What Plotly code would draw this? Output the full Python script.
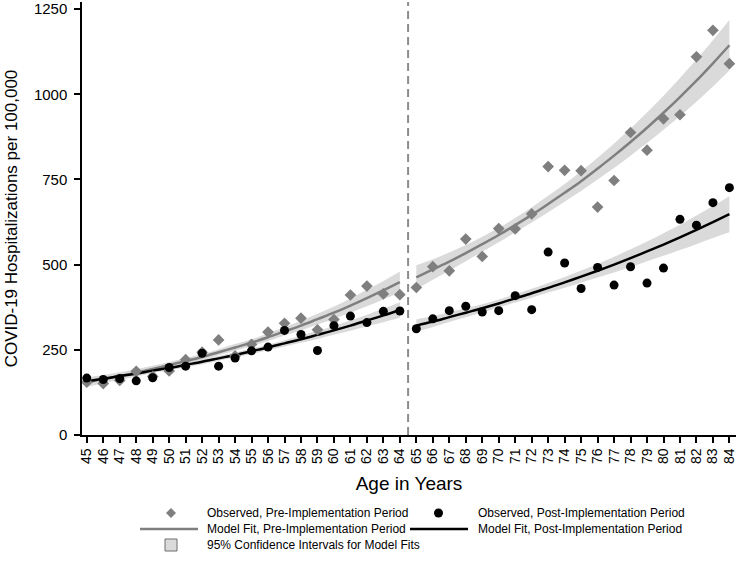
import plotly.graph_objects as go

# ages on each side of the 65 cutoff
ages_below = list(range(45, 65))
ages_above = list(range(65, 85))
ages = ages_below + ages_above
cutoff = 64.5

# observed rates
obs_pre = [155, 151, 160, 187, 172, 188, 221, 243, 279, 232,
           266, 302, 328, 343, 309, 339, 411, 437, 414, 412,
           433, 494, 482, 575, 524, 606, 605, 649, 788, 777,
           776, 669, 747, 888, 836, 928, 940, 1110, 1188, 1090]
obs_post = [167, 163, 166, 159, 168, 198, 202, 240, 202, 226,
            247, 258, 307, 295, 248, 321, 349, 330, 363, 364,
            312, 341, 365, 378, 361, 365, 409, 368, 537, 505,
            430, 492, 440, 494, 446, 490, 633, 616, 682, 726]

# model fits
fit_pre_below = [155, 164, 173, 183, 194, 205, 217, 229, 243, 257,
                 271, 287, 304, 321, 340, 359, 380, 402, 425, 449]
fit_pre_above = [463, 486, 509, 534, 560, 587, 616, 646, 678, 711,
                 745, 782, 820, 860, 902, 946, 992, 1040, 1091, 1144]
fit_post_below = [158, 165, 173, 180, 189, 197, 206, 215, 225, 235,
                  246, 257, 269, 281, 294, 307, 321, 336, 351, 367]
fit_post_above = [321, 333, 346, 359, 372, 386, 401, 416, 432, 448,
                  465, 482, 500, 519, 539, 559, 580, 602, 625, 648]

# 95% CI half widths
ci_pre_below = [14, 12, 11, 10, 9, 9, 9, 9, 9, 10,
                10, 11, 12, 14, 16, 18, 21, 24, 27, 31]
ci_pre_above = [35, 30, 27, 24, 22, 21, 21, 22, 24, 26,
                29, 32, 36, 40, 45, 50, 56, 62, 68, 74]
ci_post_below = [11, 10, 9, 8, 7, 7, 7, 7, 7, 7,
                 8, 8, 9, 10, 12, 13, 15, 17, 20, 23]
ci_post_above = [18, 16, 14, 13, 12, 12, 12, 13, 14, 16,
                 18, 20, 23, 26, 29, 33, 37, 42, 47, 53]

GRAY = "#7f7f7f"
BAND = "#dadada"
FONT = "Liberation Sans, Arial, sans-serif"

fig = go.Figure()

segments = [
    (ages_below, fit_pre_below, ci_pre_below),
    (ages_above, fit_pre_above, ci_pre_above),
    (ages_below, fit_post_below, ci_post_below),
    (ages_above, fit_post_above, ci_post_above),
]
for a, f, h in segments:
    fig.add_trace(go.Scatter(x=a, y=[v - w for v, w in zip(f, h)], mode="lines",
                             line=dict(width=0, shape="spline"), showlegend=False, hoverinfo="skip"))
    fig.add_trace(go.Scatter(x=a, y=[v + w for v, w in zip(f, h)], mode="lines",
                             line=dict(width=0, shape="spline"), fill="tonexty", fillcolor=BAND,
                             showlegend=False, hoverinfo="skip"))

for a, f, c in [(ages_below, fit_pre_below, GRAY), (ages_above, fit_pre_above, GRAY),
                (ages_below, fit_post_below, "black"), (ages_above, fit_post_above, "black")]:
    fig.add_trace(go.Scatter(x=a, y=f, mode="lines", line=dict(color=c, width=2.5, shape="spline"),
                             showlegend=False))

fig.add_trace(go.Scatter(x=ages, y=obs_pre, mode="markers",
                         marker=dict(symbol="diamond", size=9, color=GRAY), showlegend=False))
fig.add_trace(go.Scatter(x=ages, y=obs_post, mode="markers",
                         marker=dict(symbol="circle", size=9, color="black"), showlegend=False))

fig.add_vline(x=cutoff, line=dict(color="#8c8c8c", width=2, dash="8px,5px"))

# plot area in pixels: left 82, right 736, top 2, bottom 435
L, R, T, B = 82, 736, 2, 435
def px(x):
    return (x - L) / (R - L)
def py(y):
    return (B - y) / (B - T)

# hand-made legend
shapes = []
d = 5
cx, cy = 171, 513
shapes.append(dict(type="path", xref="paper", yref="paper",
                   path=f"M {px(cx)},{py(cy - d)} L {px(cx + d)},{py(cy)} L {px(cx)},{py(cy + d)} L {px(cx - d)},{py(cy)} Z",
                   fillcolor=GRAY, line=dict(width=0)))
shapes.append(dict(type="line", xref="paper", yref="paper", x0=px(140), x1=px(198), y0=py(529), y1=py(529),
                   line=dict(color=GRAY, width=2.5)))
shapes.append(dict(type="rect", xref="paper", yref="paper", x0=px(165), x1=px(177), y0=py(539), y1=py(551),
                   fillcolor=BAND, line=dict(color="#6e6e6e", width=1)))
shapes.append(dict(type="circle", xref="paper", yref="paper", x0=px(434), x1=px(443), y0=py(508.5), y1=py(517.5),
                   fillcolor="black", line=dict(width=0)))
shapes.append(dict(type="line", xref="paper", yref="paper", x0=px(410), x1=px(468), y0=py(529), y1=py(529),
                   line=dict(color="black", width=2.5)))
fig.update_layout(shapes=list(fig.layout.shapes) + shapes)

legend_texts = [
    (205, 513, "Observed, Pre-Implementation Period"),
    (205, 529, "Model Fit, Pre-Implementation Period"),
    (205, 545, "95% Confidence Intervals for Model Fits"),
    (476, 513, "Observed, Post-Implementation Period"),
    (476, 529, "Model Fit, Post-Implementation Period"),
]
for x, y, t in legend_texts:
    fig.add_annotation(x=px(x), y=py(y), xref="paper", yref="paper", text=t, showarrow=False,
                       xanchor="left", yanchor="middle", font=dict(family=FONT, size=12, color="black"))

fig.update_xaxes(range=[44.71, 84.4], tickmode="array", tickvals=ages, ticktext=[str(a) for a in ages],
                 tickangle=-90, ticks="outside", ticklen=6, tickwidth=1.5, tickcolor="black",
                 showline=True, linecolor="black", linewidth=1.5, showgrid=False, zeroline=False,
                 tickfont=dict(size=14, color="black"), automargin=False, ticklabeloverflow="allow",
                 title=dict(text="Age in Years", font=dict(size=19, color="black"), standoff=14))
fig.update_yaxes(range=[0, 1271], tickvals=[0, 250, 500, 750, 1000, 1250],
                 ticks="outside", ticklen=6, tickwidth=1.5, tickcolor="black",
                 showline=True, linecolor="black", linewidth=1.5, showgrid=False, zeroline=False,
                 tickfont=dict(size=15, color="black"), automargin=False, ticklabeloverflow="allow",
                 ticklabelstandoff=4,
                 title=dict(text="COVID-19 Hospitalizations per 100,000", font=dict(size=17, color="black"),
                            standoff=12))
fig.update_layout(width=738, height=563, margin=dict(l=L, r=738 - R, t=T, b=563 - B),
                  plot_bgcolor="white", paper_bgcolor="white",
                  font=dict(family=FONT, color="black"), showlegend=False)

# drop the browser's default page margin so the figure sits at the window origin
fig.write_html("out.html", config={"displayModeBar": False},
               post_script="document.body.style.margin = '0';")
